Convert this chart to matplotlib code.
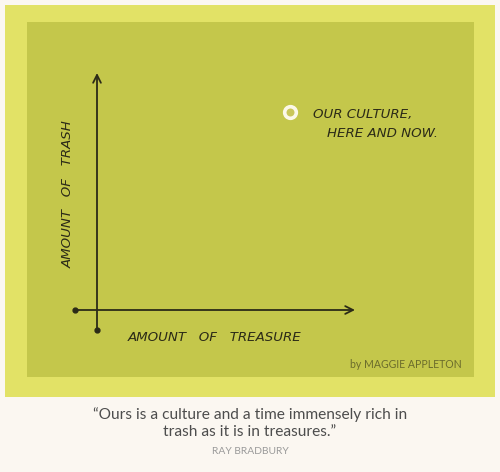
import matplotlib
matplotlib.use("Agg")
import matplotlib.pyplot as plt
from matplotlib.patches import Rectangle

# the one point on the sketch (treasure, trash), in axis units
point_treasure = [0.748]
point_trash = [0.835]
point_label = ["OUR CULTURE,", "HERE AND NOW."]

x_label = "AMOUNT   OF   TREASURE"
y_label = "AMOUNT   OF   TRASH"
credit = "by MAGGIE APPLETON"
quote = ["\u201cOurs is a culture and a time immensely rich in",
         "trash as it is in treasures.\u201d"]
author = "RAY BRADBURY"

W, H = 500, 472
ink = "#2b2a17"

fig = plt.figure(figsize=(W / 100, H / 100), dpi=100)
fig.patch.set_facecolor("#fbf7f1")


def px_rect(x0, y0, x1, y1, color):
    # rectangle given in pixel coords measured from the top-left
    fig.add_artist(Rectangle((x0 / W, 1 - y1 / H), (x1 - x0) / W, (y1 - y0) / H,
                             transform=fig.transFigure, facecolor=color,
                             edgecolor="none", zorder=0))


px_rect(5, 5, 495, 397, "#e2e266")
px_rect(27, 22, 474, 377, "#c4c74b")

# axes: 0..1 spans from the origin to the arrow tips
ax = fig.add_axes([97 / W, 1 - 310 / H, 258 / W, 237 / H])
ax.set_xlim(0, 1)
ax.set_ylim(0, 1)
ax.axis("off")
ax.patch.set_alpha(0)

ax.annotate("", xy=(1, 0), xytext=(-0.085, 0),
            arrowprops=dict(arrowstyle="->", color=ink, lw=1.3,
                            shrinkA=0, shrinkB=0, mutation_scale=14))
ax.annotate("", xy=(0, 1), xytext=(0, -0.084),
            arrowprops=dict(arrowstyle="->", color=ink, lw=1.3,
                            shrinkA=0, shrinkB=0, mutation_scale=14))
ax.plot([-0.085, 0], [0, -0.084], "o", color=ink, ms=3.5, clip_on=False)

ax.scatter(point_treasure, point_trash, s=70, facecolor="#c9c65a",
           edgecolor="#fbf8e8", linewidth=2.6, zorder=5, clip_on=False)

hand = dict(family="DejaVu Sans", color=ink, fontsize=9.6, clip_on=False,
            style="oblique")
ax.text(point_treasure[0] + 0.09, point_trash[0] - 0.01, point_label[0],
        ha="left", va="center", **hand)
ax.text(point_treasure[0] + 0.145, point_trash[0] - 0.092, point_label[1],
        ha="left", va="center", **hand)

ax.text(0.455, -0.115, x_label, ha="center", va="center", **hand)
ax.text(-0.112, 0.49, y_label, ha="center", va="center", rotation=90, **hand)

fig.text(462 / W, 1 - 364 / H, credit, ha="right", va="center",
         family="Lato", fontsize=7.6, color="#6b6c2c")

fig.text(0.5, 1 - 415 / H, quote[0], ha="center", va="center",
         family="Lato", fontsize=11.2, color="#4d4d4d")
fig.text(0.5, 1 - 432 / H, quote[1], ha="center", va="center",
         family="Lato", fontsize=11.2, color="#4d4d4d")
fig.text(0.5, 1 - 452 / H, author, ha="center", va="center",
         family="Lato", fontsize=7.4, color="#9a9a9a")

fig.savefig("out.png", dpi=100, facecolor=fig.get_facecolor())
